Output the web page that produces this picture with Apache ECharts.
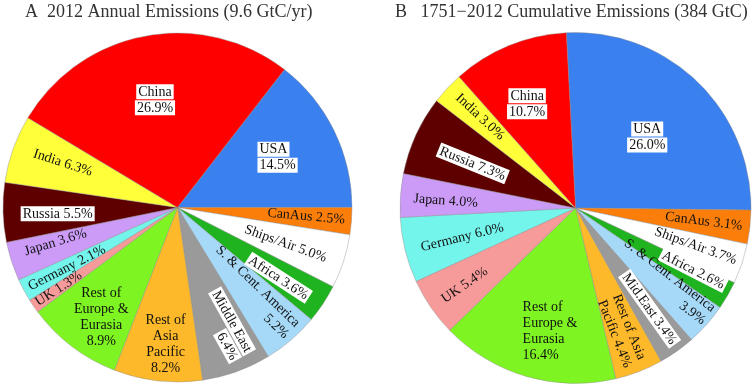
<!DOCTYPE html>
<html><head><meta charset="utf-8">
<script src="https://cdn.jsdelivr.net/npm/echarts@6/dist/echarts.min.js"></script>
<style>html,body{margin:0;padding:0;background:#fff}#c{width:754px;height:385px}</style>
</head><body><div id="c"></div><script>
// ---------------- data ----------------
const regions = ['USA','CanAus','Ships/Air','Africa','S. & Cent. America','Middle East','Rest of Asia Pacific','Rest of Europe & Eurasia','UK','Germany','Japan','Russia','India','China'];
const annualShares = [14.5,2.5,5.0,3.6,5.2,6.4,8.2,8.9,1.3,2.1,3.6,5.5,6.3,26.9];
const cumulativeShares = [26.0,3.1,3.7,2.6,3.9,3.4,4.4,16.4,5.4,6.0,4.0,7.3,3.0,10.7];
const annualLabelText = [['USA','14.5%'],['CanAus 2.5%'],['Ships/Air 5.0%'],['Africa 3.6%'],['S. & Cent. America','5.2%'],['Middle East','6.4%'],['Rest of','Asia','Pacific','8.2%'],['Rest of','Europe &','Eurasia','8.9%'],['UK 1.3%'],['Germany 2.1%'],['Japan 3.6%'],['Russia 5.5%'],['India 6.3%'],['China','26.9%']];
const cumulativeLabelText = [['USA','26.0%'],['CanAus 3.1%'],['Ships/Air 3.7%'],['Africa 2.6%'],['S. & Cent. America','3.9%'],['Mid.East 3.4%'],['Rest of Asia','Pacific 4.4%'],['Rest of','Europe &','Eurasia','16.4%'],['UK 5.4%'],['Germany 6.0%'],['Japan 4.0%'],['Russia 7.3%'],['India 3.0%'],['China','10.7%']];
const titleA = 'A  2012 Annual Emissions (9.6 GtC/yr)';
const titleB = 'B   1751\u22122012 Cumulative Emissions (384 GtC)';

// ---------------- styles ----------------
const colors = ['#3a80ee','#fc7e0a','#ffffff','#1fb41f','#a5d9f7','#9a9a9a','#fdb92a','#7ef522','#f79a9a','#74f5ec','#cc9bf8','#5e0000','#ffff3a','#ff0000'];
// per slice label layout: [radius px, rotate deg, boxed, line align, angle shift deg]
const annualLayout = [[112,0,1,'l',0.6],[129,-5,0,'c',0.5],[114,-20,0,'c',-0.6],[123,-33,1,'c',-1.3],[113,-44,0,'r',0.7],[127,-61,1,'r',2.2],[137,0,0,'c',1.5],[134,0,0,'c',2.6],[144,33,0,'c',0],[126,27,0,'c',0.4],[127,17,0,'c',-2],[120,0,1,'c',1.4],[123,-18,0,'c',-1.6],[110,0,1,'c',1.2]];
const cumulativeLayout = [[101,0,1,'c',-1.4],[129,-7,0,'c',0.3],[126,-20,0,'c',1],[133,-27,1,'c',2.2],[116,-37.5,0,'r',2],[125,-54.5,1,'c',1.1],[131.5,-68.4,0,'l',-0.5],[126,0,0,'l',4.6],[135,34.5,0,'c',0.4],[117,14,0,'c',0.7],[130,-4,0,'c',1],[112,-22,1,'c',1],[132,-43,0,'c',-0.6],[115,0,1,'c',2.6]];
const pieA = {center:[177.5,207.5], radius:174.5, startAngle:52.2};
const pieB = {center:[575.5,208], radius:175.5, startAngle:93};
const FONT = 'Liberation Serif';

const baseTok = {fontFamily:FONT, fontSize:14, color:'#111', lineHeight:16};
const rich = {};
['l','c','r'].forEach(a => {
  const al = a==='l'?'left':a==='r'?'right':'center';
  rich[a] = Object.assign({}, baseTok, {align:al});
  rich[a+'b'] = Object.assign({}, baseTok, {align:al, backgroundColor:'#fff', padding:[1,2,0,2]});
});

function makeSeries(pie, values, texts, layout) {
  const total = values.reduce((s,v)=>s+v,0);
  let cum = 0;
  const mids = values.map(v => { const m = pie.startAngle - (cum + v/2)/total*360; cum += v; return m; });
  const data = values.map((v,i) => {
    const [r, rot, boxed, al] = layout[i];
    const key = al + (boxed ? 'b' : '');
    return {
      name: regions[i], value: v,
      itemStyle: {color: colors[i]},
      label: {rotate: rot, formatter: texts[i].map(t => '{' + key + '|' + t + '}').join('\n')}
    };
  });
  return {
    type:'pie', center: pie.center, radius:[0, pie.radius], startAngle: pie.startAngle,
    clockwise:true, silent:true, animation:false, avoidLabelOverlap:false,
    itemStyle:{borderColor:'rgba(140,140,140,0.7)', borderWidth:0.6},
    label:{show:true, position:'inside', rich: rich, fontFamily:FONT, fontSize:14, color:'#111'},
    labelLine:{show:false},
    labelLayout: function(p) {
      const i = p.dataIndex;
      const [r, , , , dA] = layout[i];
      const a = (mids[i] + dA) * Math.PI/180;
      return {x: pie.center[0] + r*Math.cos(a), y: pie.center[1] - r*Math.sin(a)};
    },
    data: data
  };
}

const chart = echarts.init(document.getElementById('c'), null, {renderer:'canvas'});
const tStyle = {fontFamily:FONT, fontSize:18, fontWeight:'normal', color:'#333'};
chart.setOption({
  backgroundColor:'#fff',
  title:[
    {text:titleA, left:20, top:-2, textStyle:tStyle},
    {text:titleB, left:390, top:-2, textStyle:tStyle}
  ],
  series:[
    makeSeries(pieA, annualShares, annualLabelText, annualLayout),
    makeSeries(pieB, cumulativeShares, cumulativeLabelText, cumulativeLayout)
  ]
});
</script></body></html>
